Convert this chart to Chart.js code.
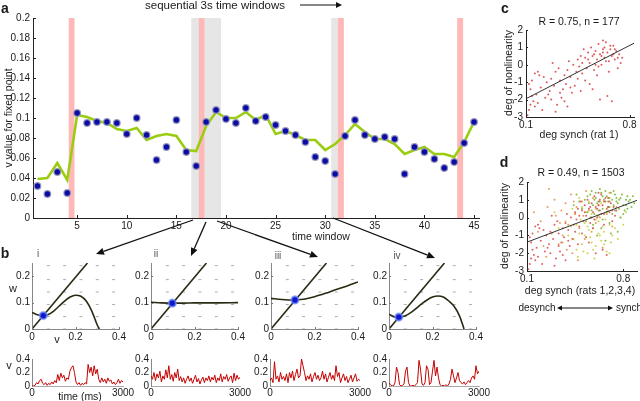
<!DOCTYPE html>
<html><head><meta charset="utf-8">
<script src="https://cdn.jsdelivr.net/npm/chart.js@4.4.1/dist/chart.umd.min.js"></script>
<style>
html,body{margin:0;padding:0;background:#fff;}
#root{position:relative;width:640px;height:401px;overflow:hidden;background:#fff;font-family:"Liberation Sans",Arial,sans-serif;color:#1a1a1a;}
.box{position:absolute;}
.box canvas{display:block;}
.t{position:absolute;white-space:nowrap;transform:translate(-50%,-50%);line-height:1;}
svg{position:absolute;left:0;top:0;}
</style></head><body><div id="root"></div>
<script>
// ---------- panel a data ----------
const windowIdx = [1,2,3,4,5,6,7,8,9,10,11,12,13,14,15,16,17,18,19,20,21,22,23,24,25,26,27,28,29,30,31,32,33,34,35,36,37,38,39,40,41,42,43,44,45];
const fixedPointV = [0.032,0.024,0.046,0.025,0.105,0.095,0.096,0.096,0.095,0.084,0.100,0.083,0.058,0.071,0.098,0.066,0.052,0.096,0.108,0.099,0.095,0.110,0.097,0.101,0.093,0.087,0.083,0.076,0.061,0.057,0.044,0.082,0.098,0.083,0.079,0.081,0.079,0.044,0.071,0.066,0.059,0.050,0.056,0.075,0.096];
const smoothedV = [0.039,0.040,0.055,0.038,0.103,0.101,0.097,0.095,0.089,0.087,0.090,0.078,0.082,0.084,0.082,0.068,0.067,0.092,0.106,0.100,0.100,0.106,0.098,0.103,0.084,0.087,0.083,0.078,0.078,0.068,0.074,0.083,0.094,0.086,0.079,0.079,0.074,0.064,0.068,0.071,0.064,0.064,0.061,0.076,0.096];
const grayWindows = [[16.5,19.5],[30.6,31.27]];
const pinkWindows = [[4.15,4.73],[17.26,17.83],[31.27,31.88],[43.3,43.9]];
const aXTicks = [5,10,15,20,25,30,35,40,45];
const aYTicks = [0,0.02,0.04,0.06,0.08,0.1,0.12,0.14,0.16,0.18,0.2];

// ---------- panel b phase planes ----------
const wNullV = [0,0.255];
const wNullW = [0,0.25];
const vNull1V = [0,0.025,0.05,0.075,0.1,0.125,0.15,0.175,0.2,0.225,0.25,0.275,0.3,0.31];
const vNull1W = [0.063,0.054,0.050,0.055,0.068,0.087,0.106,0.121,0.128,0.124,0.105,0.068,0.015,0];
const vNull2V = [0,0.05,0.1,0.15,0.2,0.3,0.4];
const vNull2W = [0.101,0.099,0.098,0.098,0.099,0.099,0.100];
const vNull3V = [0,0.05,0.1,0.15,0.2,0.25,0.3,0.35,0.4];
const vNull3W = [0.116,0.112,0.110,0.113,0.122,0.135,0.150,0.163,0.178];
const vNull4V = [0,0.025,0.05,0.075,0.1,0.125,0.15,0.175,0.2,0.225,0.25,0.275,0.3,0.325,0.345];
const vNull4W = [0.056,0.046,0.045,0.050,0.062,0.078,0.095,0.110,0.121,0.125,0.121,0.106,0.085,0.048,0];
const fixedPts = [[0.052,0.051],[0.098,0.098],[0.11,0.11],[0.045,0.045]];
const fieldV = [0.075,0.15,0.225,0.3,0.375];
const fieldW = [0,0.047,0.093,0.14,0.187,0.24];
const phaseXTicks = [0,0.2,0.4];
const phaseYTicks = [0,0.1,0.2];

// ---------- panel b voltage traces ----------
const traceT = [0,50,100,150,200,250,300,350,400,450,500,550,600,650,700,750,800,850,900,950,1000,1050,1100,1150,1200,1250,1300,1350,1400,1450,1500,1550,1600,1650,1700,1750,1800,1850,1900,1950,2000,2050,2100,2150,2200,2250,2300,2350,2400,2450,2500,2550,2600,2650,2700,2750,2800,2850,2900,2950,3000];
const trace1 = [0,0,0.01,0.05,0.03,0.08,0.1,0.04,0.02,0.05,0.01,0.04,0.02,0.06,0.03,0.08,0.05,0.17,0.08,0.19,0.12,0.16,0.07,0.12,0.1,0.22,0.27,0.3,0.2,0.06,0.02,0.05,0.01,0.04,0.02,0.05,0.03,0.32,0.2,0.28,0.15,0.3,0.18,0.25,0.1,0.05,0.12,0.06,0.1,0.04,0.12,0.07,0.09,0.03,0.06,0.02,0.05,0.1,0.04,0.08,0.06];
const trace2 = [0.15,0.1,0.2,0.08,0.18,0.12,0.22,0.06,0.15,0.1,0.24,0.12,0.3,0.1,0.17,0.07,0.2,0.12,0.25,0.08,0.14,0.06,0.12,0.04,0.1,0.15,0.07,0.12,0.04,0.1,0.16,0.06,0.11,0.03,0.09,0.13,0.05,0.12,0.08,0.15,0.06,0.13,0.09,0.16,0.05,0.12,0.08,0.18,0.06,0.14,0.1,0.17,0.07,0.12,0.15,0.05,0.19,0.08,0.16,0.1,0.13];
const trace3 = [0.08,0.12,0.05,0.36,0.1,0.15,0.06,0.2,0.1,0.14,0.08,0.18,0.05,0.2,0.12,0.22,0.08,0.17,0.25,0.12,0.15,0.4,0.3,0.2,0.08,0.15,0.1,0.18,0.06,0.14,0.2,0.1,0.16,0.08,0.12,0.22,0.1,0.18,0.06,0.13,0.2,0.1,0.16,0.08,0.3,0.14,0.2,0.05,0.12,0.18,0.08,0.14,0.05,0.1,0.16,0.06,0.12,0.18,0.07,0.1,0.08];
const trace4 = [0.05,0.02,0,0,0.05,0.28,0.2,0.02,0,0.01,0.03,0.22,0.28,0.05,0,0,0.01,0,0.02,0.05,0.38,0.25,0.03,0.01,0.05,0.3,0.25,0.02,0.05,0.22,0.38,0.15,0.28,0.12,0.02,0,0.01,0,0.02,0,0.03,0.1,0.25,0.15,0.05,0.12,0.2,0.08,0.05,0.03,0.06,0.02,0.05,0.08,0.05,0.12,0.15,0.1,0.3,0.18,0.22];
const traceXTicks = [0,3000];
const traceYTicks = [0,0.2,0.4];

// ---------- panel c (rat 1) ----------
const cx = [0.12,0.13,0.15,0.11,0.14,0.17,0.16,0.12,0.19,0.2,0.18,0.22,0.14,0.16,0.21,0.24,0.13,0.18,0.23,0.26,
 0.27,0.29,0.3,0.25,0.31,0.33,0.28,0.35,0.32,0.36,0.34,0.38,0.37,0.39,0.4,0.41,0.42,0.3,0.36,0.44,
 0.45,0.43,0.46,0.47,0.48,0.5,0.49,0.51,0.52,0.53,0.54,0.55,0.56,0.57,0.58,0.59,0.6,0.61,0.62,0.63,
 0.64,0.65,0.66,0.67,0.68,0.69,0.7,0.71,0.72,0.73,0.74,0.75,0.5,0.55,0.6,0.65,0.58,0.62,0.66,0.53,
 0.57,0.61,0.64,0.68,0.7,0.48,0.52,0.45,0.4,0.62,0.67,0.56,0.59,0.63,0.69,0.72,0.47,0.38,0.33,0.27];
const cy = [-2.6,-1.4,-2.1,-2.9,-0.9,-1.7,-2.4,-1.1,-0.6,-1.3,-2.2,-0.7,-1.8,-0.5,-2.6,-1.0,-2.3,-0.4,-1.9,-1.5,
 -0.8,-1.2,-0.4,-1.7,-2.3,-0.9,0.1,-1.4,-0.2,-0.6,-1.9,-0.3,-1.1,0.2,-0.7,-1.6,0.0,-2.7,-2.1,-0.4,
 0.3,-1.2,-0.1,0.5,-0.5,0.4,0.9,-0.2,0.7,0.1,1.0,0.5,-0.3,0.8,0.3,1.2,0.6,0.0,0.9,0.4,
 1.3,0.7,0.2,0.9,0.5,1.1,0.3,0.8,0.4,0.6,0.1,0.4,-0.9,-1.4,-2.0,-1.8,-0.6,1.4,-0.4,-1.1,
 0.0,0.5,0.2,-2.1,0.9,0.1,0.3,-0.8,-1.3,0.7,1.1,0.6,-0.1,1.0,0.6,-0.2,-1.5,-2.4,-1.6,-2.0];
const cFitX = [0.1,0.83];
const cFitY = [-1.95,1.24];

// ---------- panel d (rats 2,3,4; rat 1 = c) ----------
const ox = [0.15,0.2,0.25,0.3,0.35,0.28,0.33,0.38,0.42,0.45,0.48,0.5,0.52,0.55,0.58,0.6,0.62,0.65,0.68,0.7,0.4,0.43,0.36,0.22,0.18,0.26,0.31,0.46,0.53,0.57,0.63,0.66,0.72,0.75,0.47,0.39,0.44,0.34,0.24,0.51];
const oy = [0.3,-0.2,0.6,1.0,0.4,-0.9,-1.5,0.8,1.3,0.2,-0.6,0.9,-1.2,0.4,1.1,-0.3,0.7,-1.7,0.2,1.4,-0.4,-2.0,-1.0,-1.6,-0.8,1.6,0.1,0.6,1.5,-0.8,0.0,0.9,-0.5,0.6,-2.4,-1.8,0.9,-0.3,-2.2,0.1];
const yx = [0.42,0.44,0.46,0.48,0.5,0.52,0.54,0.56,0.58,0.6,0.62,0.64,0.66,0.68,0.7,0.72,0.45,0.49,0.53,0.57,0.61,0.65,0.69,0.47,0.51,0.55,0.59,0.63,0.67,0.71,0.4,0.38,0.36,0.43,0.5,0.55,0.6,0.74,0.76,0.78,0.8,0.82,0.46,0.52,0.58,0.62,0.66,0.7,0.54,0.6,0.33,0.3,0.48,0.64,0.57];
const yy = [-0.5,-1.2,-1.8,-0.9,-1.5,-0.3,-2.0,-1.1,-0.6,-1.6,-0.2,-1.3,-0.8,-1.9,-0.4,-1.0,0.2,-0.1,0.3,-1.4,0.1,-0.5,0.4,-2.2,-1.9,-0.7,-2.3,-1.0,-0.1,-1.4,-1.0,-0.2,-1.4,0.5,0.6,0.9,0.5,-0.6,-1.2,0.0,-0.4,0.3,-0.4,-1.0,-1.8,-0.9,-1.5,-2.0,-0.5,-0.1,-0.6,0.3,1.1,0.8,0.2];
const gx = [0.5,0.52,0.54,0.56,0.58,0.6,0.62,0.64,0.66,0.68,0.7,0.72,0.74,0.76,0.78,0.8,0.82,0.84,0.86,0.88,
 0.55,0.57,0.59,0.61,0.63,0.65,0.67,0.69,0.71,0.73,0.75,0.77,0.79,0.81,0.83,0.85,
 0.6,0.65,0.7,0.75,0.62,0.68,0.72,0.78,0.53,0.58,0.64,0.7,0.76,0.8,
 0.48,0.46,0.44,0.56,0.66,0.74,0.82,0.87,0.63,0.69,0.59,0.54,0.73,0.77,0.61,0.67,0.71,0.65,0.57,0.83];
const gy = [0.5,1.0,0.3,1.3,0.7,1.1,0.4,1.4,0.9,1.2,0.6,1.0,1.3,0.8,1.1,0.7,1.0,0.9,0.6,0.8,
 0.8,1.5,0.2,0.8,1.6,0.5,1.5,0.9,1.4,0.7,1.1,0.5,1.3,0.4,1.2,1.0,
 1.4,1.2,1.1,0.9,0.1,0.3,0.2,0.0,-0.2,-0.4,-0.6,-0.3,-0.8,0.2,
 0.9,1.3,0.7,0.0,1.0,0.4,0.7,1.2,0.9,0.6,1.0,1.2,1.5,1.0,-1.0,-1.3,-0.9,-0.1,0.4,0.5];
const dFitX = [0.1,0.9];
const dFitY = [-1.38,0.97];
const scatterXTicks = [0.1,0.8];
const scatterYTicks = [-3,-2,-1,0,1,2];

// ---------- helpers ----------
const root = document.getElementById('root');
Chart.defaults.font.family = "'Liberation Sans', Arial, sans-serif";
Chart.defaults.color = '#1a1a1a';
Chart.defaults.plugins.legend.display = false;
Chart.defaults.plugins.tooltip.enabled = false;

const innerTicks = {id:'innerTicks', afterDatasetsDraw(chart, args, opts){
  if(!opts || !opts.len) return;
  const {ctx, chartArea:a, scales} = chart;
  ctx.save(); ctx.strokeStyle = opts.color || '#222'; ctx.lineWidth = 1; ctx.beginPath();
  scales.x.ticks.forEach(t=>{const p=Math.round(scales.x.getPixelForValue(t.value))+0.5; ctx.moveTo(p,a.bottom); ctx.lineTo(p,a.bottom-opts.len);});
  scales.y.ticks.forEach(t=>{const p=Math.round(scales.y.getPixelForValue(t.value))+0.5; ctx.moveTo(a.left,p); ctx.lineTo(a.left+opts.len,p);});
  ctx.stroke(); ctx.restore();
}};
const shade = {id:'shade', beforeDatasetsDraw(chart, args, opts){
  if(!opts || !opts.bands) return;
  const {ctx, chartArea:a, scales:{x}} = chart;
  ctx.save();
  opts.bands.forEach(b=>{const x0=x.getPixelForValue(b.from), x1=x.getPixelForValue(b.to); ctx.fillStyle=b.color; ctx.fillRect(x0,a.top,x1-x0,a.bottom-a.top);});
  ctx.restore();
}};
Chart.register(innerTicks, shade);

function axis(min, max, ticks, size, color, pad){
  return {type:'linear', min, max, grid:{display:false, drawTicks:false, tickLength:0},
    border:{display:true, color:color||'#222', width:1},
    afterBuildTicks: s=>{ s.ticks = ticks.map(v=>({value:v})); },
    ticks:{autoSkip:false, maxRotation:0, padding:pad==null?3:pad, font:{size:size}, color:'#1a1a1a', callback:v=>String(v)}};
}
function pts(xs, ys){ return xs.map((x,i)=>({x, y:ys[i]})); }

function makeChart(area, yW, xH, config, extra){
  const ex = Object.assign({t:8, r:16}, extra||{});
  const w = Math.round(area.r-area.l) + yW + ex.r;
  const h = Math.round(area.b-area.t) + xH + ex.t;
  const div = document.createElement('div'); div.className='box';
  div.style.left=(area.l-yW)+'px'; div.style.top=(area.t-ex.t)+'px';
  div.style.width=w+'px'; div.style.height=h+'px';
  const cv = document.createElement('canvas'); cv.width=w; cv.height=h; cv.style.width=w+'px'; cv.style.height=h+'px';
  div.appendChild(cv); root.appendChild(div);
  const o = config.options;
  o.responsive=false; o.animation=false; o.devicePixelRatio=1;
  o.layout={autoPadding:false, padding:{top:ex.t, right:ex.r, left:0, bottom:0}};
  o.scales.x.afterFit = s=>{s.height=xH;};
  o.scales.y.afterFit = s=>{s.width=yW;};
  return new Chart(cv, config);
}
function label(text, x, y, opt){
  opt = opt||{};
  const d = document.createElement('div'); d.className='t'; d.textContent=text;
  d.style.left=x+'px'; d.style.top=y+'px'; d.style.fontSize=(opt.size||11)+'px';
  if(opt.bold) d.style.fontWeight='bold';
  if(opt.color) d.style.color=opt.color;
  if(opt.rot) d.style.transform='translate(-50%,-50%) rotate('+opt.rot+'deg)';
  root.appendChild(d);
}

// ---------- panel a ----------
const bands = grayWindows.map(b=>({from:b[0],to:b[1],color:'#e6e6e6'})).concat(pinkWindows.map(b=>({from:b[0],to:b[1],color:'#ffb8b8'})));
makeChart({l:33,t:17,r:479,b:218}, 33, 16, {
  type:'line',
  data:{datasets:[
    {data:pts(windowIdx, fixedPointV), showLine:false, pointRadius:3.3, pointBackgroundColor:'#0b0ba6', pointBorderColor:'rgba(150,150,185,0.95)', pointBorderWidth:1.2, order:0, clip:false},
    {data:pts(windowIdx, smoothedV), borderColor:'#9acd10', borderWidth:2.6, pointRadius:0, tension:0, order:1}
  ]},
  options:{plugins:{innerTicks:{len:3}, shade:{bands}},
    scales:{x:axis(0.55,45.5,aXTicks,10,'#222',2), y:axis(0,0.2,aYTicks,10,'#222',3)}}
});

// ---------- panel b phase planes ----------
const phaseAreas = [{l:32,t:263,r:119,b:329},{l:151,t:263,r:238,b:329},{l:271,t:263,r:358,b:329},{l:389,t:263,r:476,b:329}];
const vNulls = [[vNull1V,vNull1W],[vNull2V,vNull2W],[vNull3V,vNull3W],[vNull4V,vNull4W]];
const field = [];
fieldV.forEach(v=>fieldW.forEach(w=>field.push({x:v,y:w})));
phaseAreas.forEach((area,i)=>{
  makeChart(area, 22, 13, {
    type:'line',
    data:{datasets:[
      {data:field, showLine:false, pointStyle:'line', pointRadius:1.5, pointBorderColor:'#ababab', pointBorderWidth:1, order:3},
      {data:pts(wNullV,wNullW), borderColor:'#2a2a12', borderWidth:1.6, pointRadius:0, order:2},
      {data:pts(vNulls[i][0],vNulls[i][1]), borderColor:'#2a2a12', borderWidth:1.6, pointRadius:0, cubicInterpolationMode:'monotone', order:1},
      {data:[{x:fixedPts[i][0], y:fixedPts[i][1]}], showLine:false, pointRadius:3.6, pointBackgroundColor:'#1414c8', pointBorderColor:'rgba(110,150,255,0.7)', pointBorderWidth:2, order:0}
    ]},
    options:{plugins:{innerTicks:{len:2, color:'#777'}},
      scales:{x:axis(0,0.4,phaseXTicks,10,'#888',2), y:axis(0,0.25,phaseYTicks,10,'#888',2)}}
  });
});

// ---------- panel b traces ----------
const traceAreas = [{l:32,t:359,r:123,b:386},{l:151,t:359,r:240,b:386},{l:270,t:359,r:360,b:386},{l:389,t:359,r:479,b:386}];
const traces = [trace1,trace2,trace3,trace4];
traceAreas.forEach((area,i)=>{
  makeChart(area, 22, 12, {
    type:'line',
    data:{datasets:[{data:pts(traceT,traces[i]), borderColor:'#c40000', borderWidth:1, pointRadius:0, tension:0}]},
    options:{plugins:{innerTicks:{len:0}},
      scales:{x:axis(0,3000,traceXTicks,10,'#aaa',1), y:axis(0,0.4,traceYTicks,10,'#888',2)}}
  });
});

// ---------- panel c ----------
makeChart({l:526,t:29,r:634,b:117}, 18, 14, {
  type:'line',
  data:{datasets:[
    {data:pts(cx,cy), showLine:false, pointRadius:1, pointBorderWidth:0, pointBackgroundColor:'rgba(215,60,60,0.85)', order:1},
    {data:pts(cFitX,cFitY), borderColor:'#333', borderWidth:1, pointRadius:0, order:0}
  ]},
  options:{plugins:{innerTicks:{len:2}},
    scales:{x:axis(0.1,0.83,scatterXTicks,10,'#222',2), y:axis(-3,2,scatterYTicks,10,'#222',3)}}
});

// ---------- panel d ----------
makeChart({l:527,t:181,r:637,b:271}, 18, 14, {
  type:'line',
  data:{datasets:[
    {data:pts(yx,yy), showLine:false, pointRadius:1, pointBorderWidth:0, pointBackgroundColor:'rgba(200,205,50,0.85)', order:4},
    {data:pts(gx,gy), showLine:false, pointRadius:1, pointBorderWidth:0, pointBackgroundColor:'rgba(110,180,35,0.85)', order:3},
    {data:pts(ox,oy), showLine:false, pointRadius:1, pointBorderWidth:0, pointBackgroundColor:'rgba(230,140,60,0.85)', order:2},
    {data:pts(cx,cy), showLine:false, pointRadius:1, pointBorderWidth:0, pointBackgroundColor:'rgba(215,60,60,0.8)', order:1},
    {data:pts(dFitX,dFitY), borderColor:'#333', borderWidth:1, pointRadius:0, order:0}
  ]},
  options:{plugins:{innerTicks:{len:2}},
    scales:{x:axis(0.1,0.9,scatterXTicks,10,'#222',2), y:axis(-3,2,scatterYTicks,10,'#222',3)}}
});

// ---------- text ----------
label('a', 5, 8, {size:14, bold:true});
label('sequential 3s time windows', 215, 6, {size:11.5});
label('v value for fixed point', 8, 118, {size:10.5, rot:-90});
label('time window', 321, 236, {size:10.5});
label('b', 5, 253, {size:14, bold:true});
label('i', 38, 254, {size:10, color:'#555'});
label('ii', 156, 254, {size:10, color:'#555'});
label('iii', 278, 256, {size:10, color:'#555'});
label('iv', 397, 256, {size:10, color:'#555'});
label('w', 13, 288, {size:11});
label('v', 57, 339, {size:11});
label('v', 9, 365, {size:11});
label('time (ms)', 80, 396, {size:10.5});
label('c', 505, 8, {size:14, bold:true});
label('R = 0.75, n = 177', 579, 21, {size:10.5});
label('deg of nonlinearity', 508, 73, {size:10.5, rot:-90});
label('deg synch (rat 1)', 579, 134, {size:10.5});
label('d', 504, 162, {size:14, bold:true});
label('R = 0.49, n = 1503', 581, 172, {size:10.5});
label('deg of nonlinearity', 504, 226, {size:10.5, rot:-90});
label('deg synch (rats 1,2,3,4)', 580, 290, {size:10.5});
label('desynch', 537, 308, {size:10});
label('synch', 629, 308, {size:10});

// ---------- arrows ----------
const NS='http://www.w3.org/2000/svg';
const svg=document.createElementNS(NS,'svg'); svg.setAttribute('width','640'); svg.setAttribute('height','401');
function arrow(x1,y1,x2,y2,hl,hw,both,lw){
  const dx=x2-x1, dy=y2-y1, L=Math.hypot(dx,dy), ux=dx/L, uy=dy/L, nx=-uy, ny=ux;
  function head(tx,ty,sx,sy){
    const bx=tx-sx*hl, by=ty-sy*hl;
    const p=document.createElementNS(NS,'polygon');
    p.setAttribute('points',`${tx},${ty} ${bx+nx*hw},${by+ny*hw} ${bx-nx*hw},${by-ny*hw}`);
    p.setAttribute('fill','#111'); svg.appendChild(p);
    return [bx,by];
  }
  const e=head(x2,y2,ux,uy);
  let s=[x1,y1];
  if(both) s=head(x1,y1,-ux,-uy);
  const l=document.createElementNS(NS,'line');
  l.setAttribute('x1',s[0]); l.setAttribute('y1',s[1]); l.setAttribute('x2',e[0]); l.setAttribute('y2',e[1]);
  l.setAttribute('stroke','#111'); l.setAttribute('stroke-width',lw||1.3); svg.appendChild(l);
}
arrow(193,220,96,254,8,3.5);
arrow(206,222,191,256,8,3.5);
arrow(217,221,318,257,8,3.5);
arrow(333,218,435,258,8,3.5);
arrow(300,5,342,5,6,3,false,1.2);
arrow(557,308,613,308,5,2.5,true,1);
root.appendChild(svg);
</script></body></html>
